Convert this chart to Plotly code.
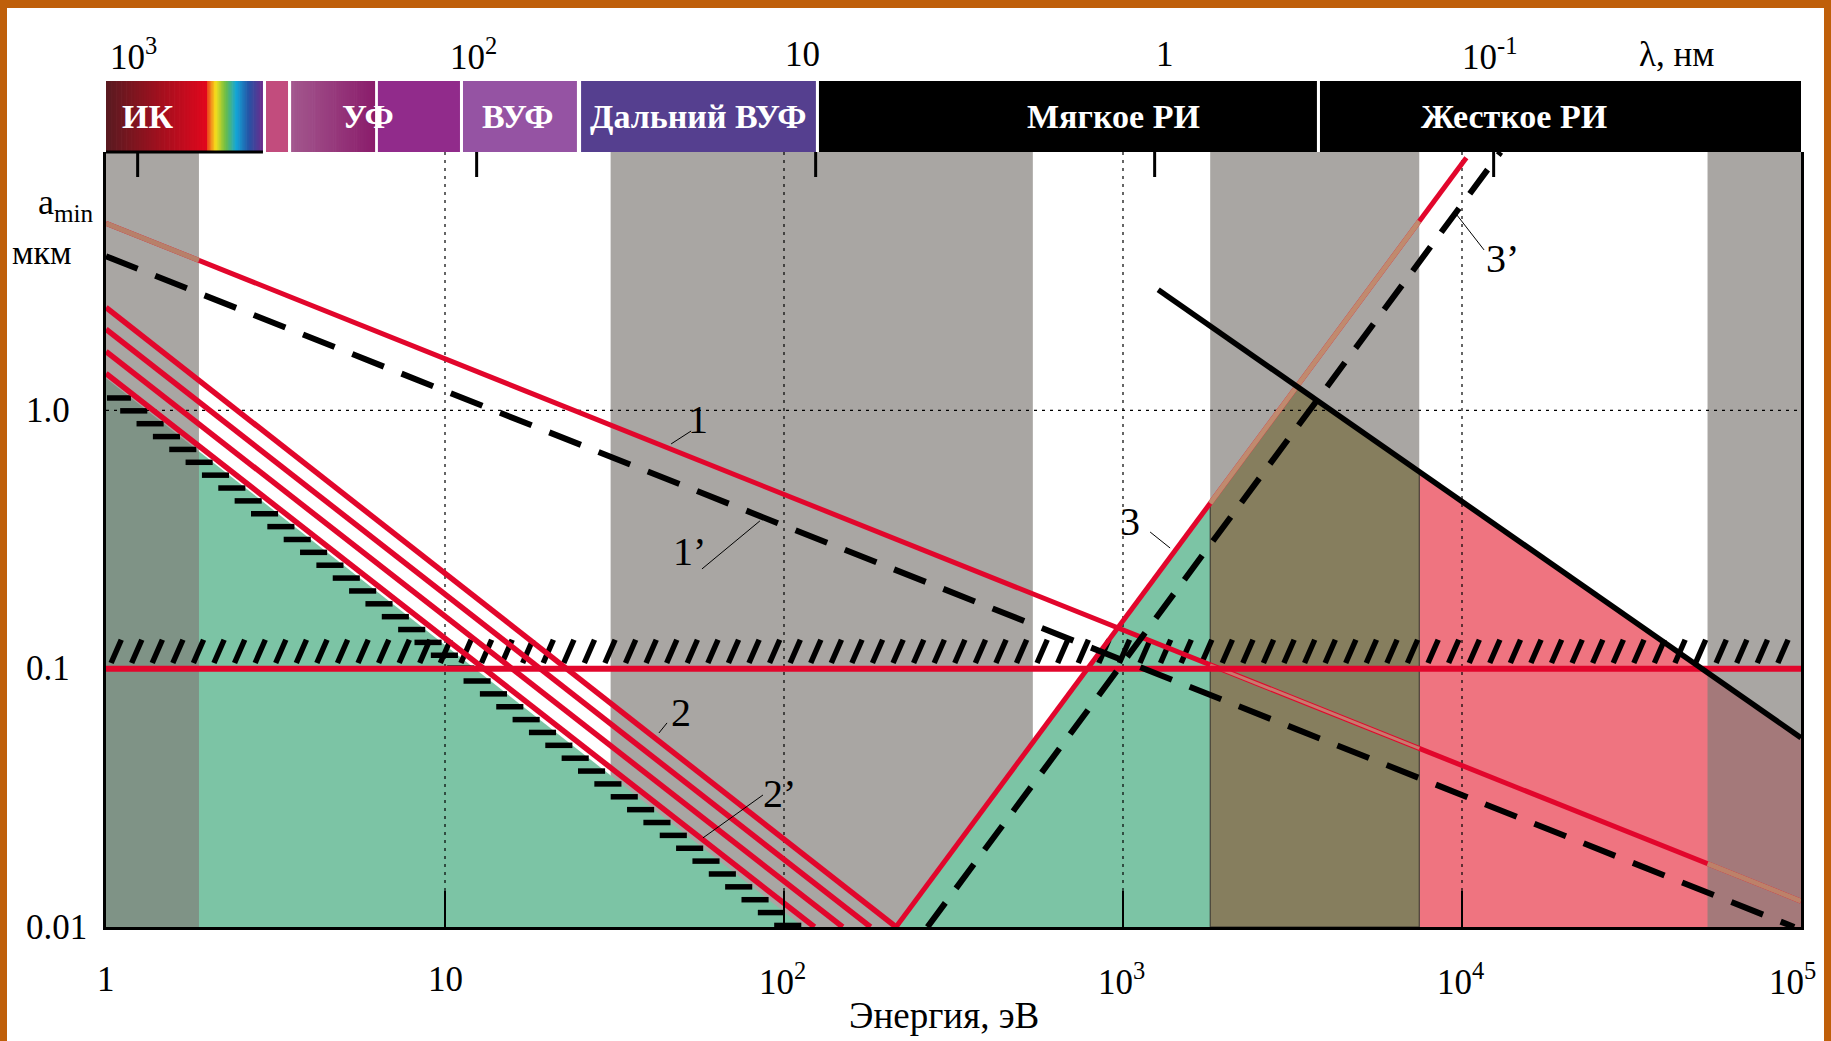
import numpy as np
import plotly.graph_objects as go

# ---------------- data ----------------
HC_EV_NM = 1239.84  # E[eV] * lambda[nm]

ENERGY_TICKS = [1, 10, 100, 1000, 1e4, 1e5]
ENERGY_TICK_TEXT = ["1", "10", "10<sup>2</sup>", "10<sup>3</sup>", "10<sup>4</sup>", "10<sup>5</sup>"]
WAVELENGTH_TICKS = [1000, 100, 10, 1, 0.1]
WAVELENGTH_TICK_TEXT = ["10<sup>3</sup>", "10<sup>2</sup>", "10", "1", "10<sup>-1</sup>"]
AMIN_TICKS = [0.01, 0.1, 1.0]
AMIN_TICK_TEXT = ["0.01", "0.1", "1.0"]

# spectral ranges of the header bar, eV
RANGE_E_LO = [1.0, 1.986, 2.965, 3.516, 6.34, 11.3, 25.2, 126.8, 3811]
RANGE_E_HI = [1.986, 2.904, 3.443, 6.22, 11.07, 24.5, 124.2, 3733, 1e5]
RANGE_NAMES = ["ИК", "УФ", "ВУФ", "Дальний ВУФ", "Мягкое РИ", "Жесткое РИ"]
RANGE_NAME_E = [1.33, 5.93, 16.4, 56.1, 935, 14230]

# energy intervals shaded grey, eV
GREY_E_LO = [1.0, 30.8, 1808, 53000]
GREY_E_HI = [1.88, 542, 7480, 1e5]

# a_min(E) curves, um (straight in log-log, given by their end points)
CURVE1_E, CURVE1_A = [1, 1e5], [5.3, 0.0126]
CURVE1P_E, CURVE1P_A = [1, 95500], [3.95, 0.01]
CURVE2_A_AT_1EV = [1.39, 1.69, 2.06, 2.50]
CURVE2_E_AT_FLOOR = [123, 149, 180, 214]
CURVE2P_E, CURVE2P_A = [1, 114], [1.33, 0.01]
CURVE3_E, CURVE3_A = [214, 10300], [0.01, 9.5]
CURVE3P_E, CURVE3P_A = [265, 13000], [0.01, 10]
CURVE4_E, CURVE4_A = [1270, 1e5], [2.93, 0.054]
A_THRESHOLD = 0.1
A_FLOOR, A_CEIL = 0.01, 10.0
E_LEFT, E_RIGHT = 1.0, 1e5

# ---------------- page geometry ----------------
W, H = 1831, 1041
ML, MR, MT, MB = 106, 30, 152, 114
PW, PH = W - ML - MR, H - MT - MB


def pxx(px):
    return (px - ML) / PW


def pxy(py):
    return (H - MB - py) / PH


RED = "#e2062c"
GREEN = "#7cc4a5"
PINK = "#ef7480"
GREY = "#a9a6a3"
GREY_ALPHA = "rgba(128,124,120,0.68)"
OLIVE = "#867e5e"
FONT = "Liberation Serif"


def a_on(E_pts, A_pts, E):
    return 10 ** np.interp(np.log10(E), np.log10(E_pts), np.log10(A_pts))


def crossing(E1, A1, E2, A2):
    x1, y1 = np.log10(E1), np.log10(A1)
    x2, y2 = np.log10(E2), np.log10(A2)
    k1 = (y1[1] - y1[0]) / (x1[1] - x1[0])
    k2 = (y2[1] - y2[0]) / (x2[1] - x2[0])
    x = (y2[0] - k2 * x2[0] - y1[0] + k1 * x1[0]) / (k1 - k2)
    return 10 ** x, 10 ** (y1[0] + k1 * (x - x1[0]))


def poly(E, A, color, outline=None):
    return go.Scatter(x=E, y=A, mode="lines", fill="toself", fillcolor=color,
                      line=outline or dict(width=0), hoverinfo="skip", showlegend=False)


def line(E, A, color, width, dash="solid"):
    return go.Scatter(x=E, y=A, mode="lines", line=dict(color=color, width=width, dash=dash),
                      hoverinfo="skip", showlegend=False)


def grey_band(i, color):
    lo, hi = GREY_E_LO[i], GREY_E_HI[i]
    return poly([lo, lo, hi, hi, lo], [A_FLOOR, A_CEIL, A_CEIL, A_FLOOR, A_FLOOR], color)


def label(x, y, text, size, xref="paper", yref="paper", xanchor="center", color="black"):
    return dict(x=x, y=y, xref=xref, yref=yref, text=text, showarrow=False,
                xanchor=xanchor, yanchor="middle",
                font=dict(family=FONT, size=size, color=color))


fig = go.Figure()

# opaque grey interval lying under the filled regions
fig.add_trace(grey_band(1, GREY))

# filled regions
fig.add_trace(poly([CURVE2P_E[0], CURVE2P_E[0], CURVE2P_E[1]],
                   [A_FLOOR, CURVE2P_A[0], A_FLOOR], GREEN))
e_g = GREY_E_LO[2]
fig.add_trace(poly([CURVE3_E[0], e_g, e_g], [A_FLOOR, a_on(CURVE3_E, CURVE3_A, e_g), A_FLOOR], GREEN))
e_p = GREY_E_HI[2]
fig.add_trace(poly([e_p, e_p, E_RIGHT, E_RIGHT],
                   [A_FLOOR, a_on(CURVE4_E, CURVE4_A, e_p), a_on(CURVE4_E, CURVE4_A, E_RIGHT), A_FLOOR], PINK))

# translucent grey intervals
for i in (0, 2, 3):
    fig.add_trace(grey_band(i, GREY_ALPHA))

x34, a34 = crossing(CURVE3_E, CURVE3_A, CURVE4_E, CURVE4_A)
fig.add_trace(poly([e_g, e_g, x34, e_p, e_p, e_g],
                   [A_FLOOR, a_on(CURVE3_E, CURVE3_A, e_g), a34, a_on(CURVE4_E, CURVE4_A, e_p), A_FLOOR, A_FLOOR],
                   OLIVE, outline=dict(color="#33312a", width=1)))

# dotted grid
tick_top = A_FLOOR * 10 ** (36 / (PH / 3))
gx, gy = [], []
for e in ENERGY_TICKS[1:-1]:
    gx += [e, e, None]
    gy += [tick_top, A_CEIL, None]
gx += [E_LEFT, E_RIGHT]
gy += [1.0, 1.0]
fig.add_trace(line(gx, gy, "black", 1.2, dash="3px,5px"))

# hatching above the a = 0.1 limit
hx, hy = [], []
for le in np.arange(0.015, 4.97, 0.0607):
    hx += [10 ** le, 10 ** (le + 0.03), None]
    hy += [A_THRESHOLD * 10 ** 0.022, A_THRESHOLD * 10 ** 0.112, None]
fig.add_trace(line(hx, hy, "black", 5.5))

# hatched boundary 2'
dx, dy = [], []
la0, la1 = np.log10(CURVE2P_A[0]), np.log10(CURVE2P_A[1])
le0, le1 = np.log10(CURVE2P_E[0]), np.log10(CURVE2P_E[1])
for la in np.arange(la0 - 0.076, la1, -0.0498):
    le = np.interp(la, [la1, la0], [le1, le0])
    dx += [10 ** max(le - 0.08, 0.003), 10 ** le, None]
    dy += [10 ** la, 10 ** la, None]
fig.add_trace(line(dx, dy, "black", 5.5))

# curve 1 and curve 3 (recoloured where they cross the translucent intervals)
fig.add_trace(line(CURVE1_E, CURVE1_A, RED, 5))
for i, col, w in ((0, "#b7806a", 5), (2, "#c87a6e", 3), (3, "#bd8169", 5)):
    lo, hi = GREY_E_LO[i], GREY_E_HI[i]
    fig.add_trace(line([lo, hi], [a_on(CURVE1_E, CURVE1_A, lo), a_on(CURVE1_E, CURVE1_A, hi)], col, w))
fig.add_trace(line(CURVE3_E, CURVE3_A, RED, 5))
fig.add_trace(line([e_g, e_p], [a_on(CURVE3_E, CURVE3_A, e_g), a_on(CURVE3_E, CURVE3_A, e_p)], "#c08a6e", 5))

# curve 2 family
for a1, e0 in zip(CURVE2_A_AT_1EV, CURVE2_E_AT_FLOOR):
    fig.add_trace(line([E_LEFT, e0], [a1, A_FLOOR], RED, 5.5))

# a = 0.1 limit
fig.add_trace(line([E_LEFT, E_RIGHT], [A_THRESHOLD, A_THRESHOLD], RED, 6))

# dashed curves 1', 3' and solid black line
fig.add_trace(line(CURVE1P_E, CURVE1P_A, "black", 6, dash="34px,19px"))
fig.add_trace(line(CURVE3P_E, CURVE3P_A, "black", 6, dash="30px,18px"))
fig.add_trace(line(CURVE4_E, CURVE4_A, "black", 5.5))

# curve labels (log10 coordinates) with leader lines
CURVE_LABELS = [
    ("1", (1.746, -0.037), ((1.667, -0.130), (1.726, -0.080))),
    ("1’", (1.720, -0.548), ((1.758, -0.614), (1.929, -0.428))),
    ("2", (1.696, -1.168), ((1.631, -1.249), (1.655, -1.210))),
    ("2’", (1.988, -1.485), ((1.938, -1.489), (1.761, -1.655))),
    ("3", (3.021, -0.432), ((3.080, -0.471), (3.139, -0.533))),
    ("3’", (4.118, 0.586), ((3.985, 0.756), (4.065, 0.621))),
]
annotations = []
lx, ly = [], []
for text, (x, y), (p0, p1) in CURVE_LABELS:
    annotations.append(label(x, y, text, 40, xref="x", yref="y"))
    lx += [10 ** p0[0], 10 ** p1[0], None]
    ly += [10 ** p0[1], 10 ** p1[1], None]
fig.add_trace(line(lx, ly, "black", 1))

# axis tick labels
ENERGY_LABEL_SHIFT_PX = [0, 0, -2, -2, -2, -9]
for e, t, s in zip(ENERGY_TICKS, ENERGY_TICK_TEXT, ENERGY_LABEL_SHIFT_PX):
    annotations.append(label(np.log10(e) / 5 + s / PW, pxy(979), t, 35))
for a, t in zip(AMIN_TICKS, AMIN_TICK_TEXT):
    annotations.append(label(pxx(24), np.log10(a), t, 35, yref="y", xanchor="left"))
WAVELENGTH_LABEL_SHIFT_PX = [-4, -3, -13, 10, -4]
for lam, t, s in zip(WAVELENGTH_TICKS, WAVELENGTH_TICK_TEXT, WAVELENGTH_LABEL_SHIFT_PX):
    annotations.append(label(np.log10(HC_EV_NM / lam) / 5 + s / PW, pxy(55), t, 35))
annotations += [
    label(pxx(1676), pxy(55), "λ, нм", 35),
    label(pxx(944), pxy(1016), "Энергия, эВ", 37),
    label(pxx(36), pxy(205), "a<sub>min</sub>", 36, xanchor="left"),
    label(pxx(10), pxy(252), "мкм", 34, xanchor="left"),
]
for name, e in zip(RANGE_NAMES, RANGE_NAME_E):
    annotations.append(label(np.log10(e) / 5, pxy(116), "<b>%s</b>" % name, 34, color="white"))


# header bar with the spectral ranges
def hex_rgb(h):
    h = h.lstrip("#")
    return tuple(int(h[i:i + 2], 16) for i in (0, 2, 4))


def ramp(stops, t):
    for (p0, c0), (p1, c1) in zip(stops[:-1], stops[1:]):
        if t <= p1 + 1e-9:
            a, b = hex_rgb(c0), hex_rgb(c1)
            u = (t - p0) / (p1 - p0)
            return "rgb(%d,%d,%d)" % tuple(round(a[k] + (b[k] - a[k]) * u) for k in range(3))
    return stops[-1][1]


BAR_STOPS = [
    [(0, "#581a20"), (1, "#e2071d")],
    [(0, "#ec3a1c"), (0.15, "#f8df1b"), (0.33, "#6cbd45"), (0.52, "#14a6d8"), (0.74, "#2455a6"), (1, "#6c2b8c")],
    [(0, "#c24c7d"), (1, "#c24c7d")],
    [(0, "#a3588e"), (1, "#8a1c6b")],
    [(0, "#912b8b"), (1, "#912b8b")],
    [(0, "#9553a3"), (1, "#9553a3")],
    [(0, "#553f8f"), (1, "#553f8f")],
    [(0, "#000000"), (1, "#000000")],
    [(0, "#000000"), (1, "#000000")],
]
shapes = []
bar_bottom, bar_top = pxy(152), pxy(81)
for lo, hi, stops in zip(RANGE_E_LO, RANGE_E_HI, BAR_STOPS):
    x0, x1 = np.log10(lo) / 5, np.log10(hi) / 5
    n = 1 if len(set(c for _, c in stops)) == 1 else 40
    for k in range(n):
        s0 = x0 + (x1 - x0) * k / n
        s1 = x0 + (x1 - x0) * (k + 1) / n
        shapes.append(dict(type="rect", xref="paper", yref="paper", x0=s0, x1=s1 + (0.0004 if k < n - 1 else 0),
                           y0=bar_bottom, y1=bar_top, fillcolor=ramp(stops, (k + 0.5) / n),
                           line=dict(width=0), layer="above"))
shapes.append(dict(type="line", xref="paper", yref="paper", x0=0, x1=np.log10(RANGE_E_HI[1]) / 5,
                   y0=bar_bottom, y1=bar_bottom, line=dict(color="black", width=3)))
for lam in WAVELENGTH_TICKS:
    xe = np.log10(HC_EV_NM / lam) / 5
    shapes.append(dict(type="line", xref="paper", yref="paper", x0=xe, x1=xe, y0=bar_bottom, y1=pxy(177),
                       line=dict(color="black", width=3)))

# page frame
FRAME = "#bf5f0a"
for x0, x1, y0, y1 in ((0, 7, 0, H), (W - 7, W, 0, H), (0, W, 0, 8)):
    shapes.append(dict(type="rect", xref="paper", yref="paper", x0=pxx(x0), x1=pxx(x1),
                       y0=pxy(y1), y1=pxy(y0), fillcolor=FRAME, line=dict(width=0), layer="above"))

fig.update_layout(
    width=W, height=H,
    margin=dict(l=ML, r=MR, t=MT, b=MB, pad=0),
    paper_bgcolor="white", plot_bgcolor="white",
    showlegend=False,
    font=dict(family=FONT, color="black"),
    annotations=annotations, shapes=shapes,
    xaxis=dict(type="log", range=[0, 5], showgrid=False, zeroline=False, showline=True,
               linecolor="black", linewidth=2.5, ticks="inside", ticklen=36, tickwidth=1.5,
               tickcolor="black", tickvals=ENERGY_TICKS[1:-1], showticklabels=False,
               layer="above traces", fixedrange=True),
    yaxis=dict(type="log", range=[-2, 1], showgrid=False, zeroline=False, showline=True, mirror=True,
               linecolor="black", linewidth=2.5, ticks="", showticklabels=False,
               layer="above traces", fixedrange=True),
)

fig.write_html("out.html")
